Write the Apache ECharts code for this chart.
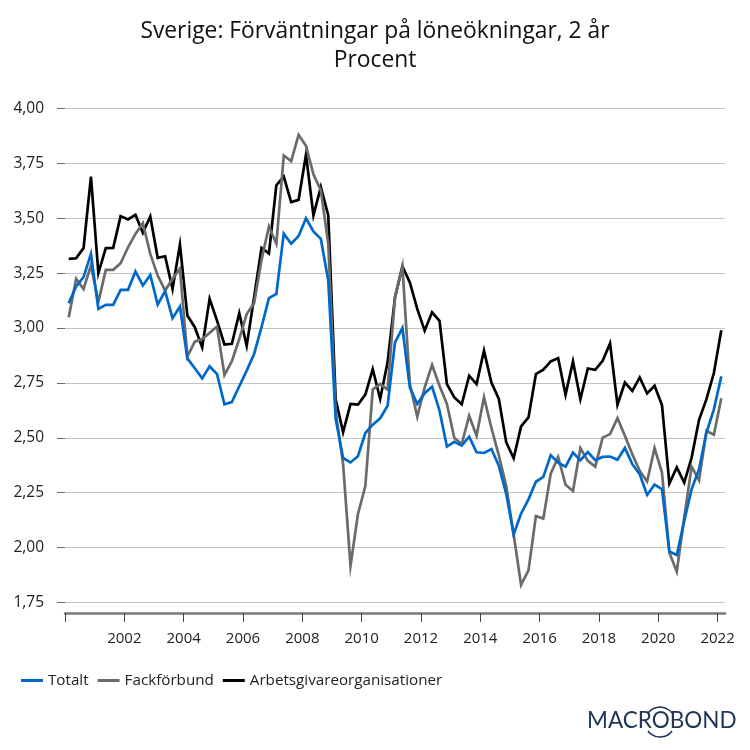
<!DOCTYPE html>
<html>
<head>
<meta charset="utf-8">
<style>html,body{margin:0;padding:0;background:#fff}#c{width:750px;height:750px}</style>
<script src="https://cdn.jsdelivr.net/npm/echarts@6/dist/echarts.min.js"></script>
</head>
<body>
<div id="c"></div>
<script>
// Kvartalsdata 2000 K1 – 2022 K1
const startYear = 2000;
const totalt = [3.113,3.19,3.232,3.338,3.087,3.106,3.106,3.174,3.174,3.258,3.194,3.242,3.107,3.168,3.045,3.098,2.862,2.817,2.771,2.826,2.79,2.653,2.663,2.735,2.806,2.882,3.004,3.136,3.156,3.43,3.384,3.419,3.5,3.44,3.406,3.216,2.586,2.408,2.388,2.416,2.522,2.56,2.589,2.646,2.935,3.0,2.73,2.654,2.703,2.733,2.624,2.46,2.482,2.465,2.505,2.434,2.431,2.449,2.373,2.245,2.06,2.155,2.22,2.3,2.322,2.421,2.387,2.369,2.433,2.398,2.435,2.398,2.413,2.415,2.4,2.454,2.38,2.334,2.24,2.287,2.266,1.982,1.966,2.121,2.266,2.357,2.524,2.63,2.78];
const fackforbund = [3.049,3.224,3.178,3.285,3.118,3.265,3.265,3.295,3.368,3.429,3.478,3.338,3.239,3.171,3.224,3.27,2.87,2.938,2.95,2.978,3.007,2.786,2.849,2.95,3.064,3.113,3.31,3.463,3.384,3.786,3.76,3.88,3.83,3.7,3.627,3.384,2.62,2.38,1.917,2.152,2.28,2.72,2.745,2.72,3.14,3.281,2.745,2.596,2.73,2.832,2.737,2.654,2.499,2.472,2.601,2.51,2.685,2.545,2.42,2.28,2.06,1.83,1.896,2.144,2.132,2.337,2.413,2.286,2.258,2.453,2.395,2.369,2.501,2.517,2.59,2.509,2.425,2.35,2.301,2.453,2.342,1.977,1.89,2.137,2.369,2.307,2.532,2.514,2.68];
const arbetsgivare = [3.315,3.318,3.364,3.69,3.25,3.364,3.365,3.51,3.495,3.516,3.434,3.508,3.32,3.327,3.178,3.38,3.057,3.004,2.912,3.133,3.034,2.925,2.928,3.068,2.919,3.14,3.365,3.34,3.65,3.69,3.574,3.584,3.79,3.513,3.642,3.513,2.676,2.525,2.654,2.651,2.697,2.813,2.677,2.844,3.14,3.281,3.208,3.087,2.988,3.072,3.033,2.745,2.684,2.653,2.783,2.745,2.897,2.752,2.677,2.479,2.407,2.552,2.593,2.79,2.81,2.848,2.863,2.696,2.848,2.676,2.816,2.81,2.851,2.93,2.65,2.752,2.714,2.775,2.702,2.737,2.649,2.292,2.365,2.296,2.41,2.582,2.676,2.795,2.99];
const yearTicks = [2000,2002,2004,2006,2008,2010,2012,2014,2016,2018,2020,2022];
const yearLabels = [2002,2004,2006,2008,2010,2012,2014,2016,2018,2020,2022];
const titleLines = ['Sverige: Förväntningar på löneökningar, 2 år','Procent'];
const FONT = 'Open Sans';
const pts = a => a.map((v,i)=>[startYear + 0.125 + i*0.25, v]);

const chart = echarts.init(document.getElementById('c'),null,{renderer:'canvas'});
chart.setOption({
  animation:false,
  backgroundColor:'#fff',
  textStyle:{fontFamily:FONT},
  title:{
    text:titleLines.join('\n'),left:'center',top:12,
    textStyle:{fontFamily:FONT,fontSize:22.8,fontWeight:'normal',color:'#111',lineHeight:29}
  },
  legend:{
    data:['Totalt','Fackförbund','Arbetsgivareorganisationer'],
    left:21,top:673,padding:0,icon:'rect',itemWidth:22,itemHeight:3,itemGap:9,
    textStyle:{fontFamily:FONT,fontSize:15.2,color:'#222'}
  },
  grid:{left:65,right:25,top:108.5,bottom:147.5},
  xAxis:{
    type:'value',min:2000,max:2022.25,offset:10.5,
    axisLine:{onZero:false,lineStyle:{color:'#7a7a7a',width:2.5}},
    axisTick:{customValues:yearTicks,length:9,lineStyle:{color:'#444',width:1}},
    axisLabel:{customValues:yearLabels,formatter:v=>String(v),fontFamily:FONT,fontSize:15,color:'#222',margin:18},
    splitLine:{show:false}
  },
  yAxis:{
    type:'value',min:1.75,max:4,interval:0.25,
    axisLine:{show:false},
    axisTick:{show:true,length:8,lineStyle:{color:'#666',width:1}},
    axisLabel:{formatter:v=>v.toFixed(2).replace('.',','),fontFamily:FONT,fontSize:15.5,color:'#222',margin:21},
    splitLine:{lineStyle:{color:'#c4c4c4',width:1.2}}
  },
  series:[
    {name:'Arbetsgivareorganisationer',type:'line',z:2,data:pts(arbetsgivare),showSymbol:false,symbol:'none',itemStyle:{color:'#000'},lineStyle:{color:'#000',width:2.7,join:'miter'}},
    {name:'Fackförbund',type:'line',z:3,data:pts(fackforbund),showSymbol:false,symbol:'none',itemStyle:{color:'#6b6b6b'},lineStyle:{color:'#6b6b6b',width:2.7,join:'miter'}},
    {name:'Totalt',type:'line',z:4,data:pts(totalt),showSymbol:false,symbol:'none',itemStyle:{color:'#0068c9'},lineStyle:{color:'#0068c9',width:2.7,join:'miter'}}
  ],
  graphic:[
    {type:'text',left:587,top:709,style:{text:'MACROBOND',fontFamily:'Lato',fontSize:22.5,fill:'#1d3557',letterSpacing:0.4}},
    {type:'arc',shape:{cx:660,cy:722,r:15,startAngle:-2.5,endAngle:-0.64,clockwise:true},style:{fill:null,stroke:'#1d3557',lineWidth:1.5}},
    {type:'arc',shape:{cx:660,cy:722,r:15,startAngle:0.64,endAngle:2.5,clockwise:true},style:{fill:null,stroke:'#1d3557',lineWidth:1.5}}
  ]
});
</script>
</body>
</html>
